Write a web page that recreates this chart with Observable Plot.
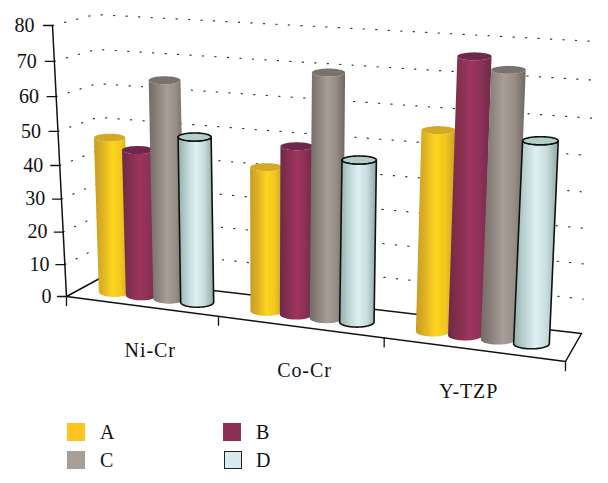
<!DOCTYPE html>
<html>
<head>
<meta charset="utf-8">
<script src="https://cdn.jsdelivr.net/npm/d3@7"></script>
<script src="https://cdn.jsdelivr.net/npm/@observablehq/plot@0.6"></script>
<style>
html,body{margin:0;padding:0;background:#fff;}
#chart{position:relative;width:608px;height:483px;overflow:hidden;font-family:"Liberation Serif",serif;}
#chart svg{position:absolute;left:0;top:0;}
.cat-label{letter-spacing:0.9px;}
.sw{position:absolute;width:18px;height:18px;box-sizing:border-box;}
.lb{position:absolute;font-size:20px;line-height:20px;color:#111;}
</style>
</head>
<body>
<div id="chart"></div>
<script>
const categories = ["Ni-Cr", "Co-Cr", "Y-TZP"];
const seriesNames = ["A", "B", "C", "D"];
const A = [47, 42, 55.5];
const B = [44, 48.5, 75];
const C = [64.5, 69, 72];
const D = [49, 46, 54.5];
const seriesValues = [A, B, C, D];
const valueTicks = [0, 10, 20, 30, 40, 50, 60, 70, 80];
const legendColors = ["#fdc31f", "#8e2f55", "#a89e98", "#d9eaee"];

const W = 608, H = 483, vMax = 80;
// screen positions of the 3D box corners (front/back, left/right, bottom/top)
const box = {
  flb:[66,296], flt:[52,25], blb:[101,277], blt:[95,14],
  frb:[565,361], frt:[582,40], brb:[581,333], brt:[595,41]
};
const warp = (s, w) => s*w/(1+s*(w-1));
const mix = (a,b,s) => [a[0]+(b[0]-a[0])*s, a[1]+(b[1]-a[1])*s];
function project(u, depth, v){
  const s = warp(u,0.876), h = warp(v/vMax,0.936);
  const fb = mix(box.flb,box.frb,s), ft = mix(box.flt,box.frt,s);
  const bb = mix(box.blb,box.brb,s), bt = mix(box.blt,box.brt,s);
  return mix(mix(fb,ft,h), mix(bb,bt,h), depth);
}
const pt = p => ({x:p[0], y:p[1]});
const line = (pts,o) => Plot.line(pts.map(pt), {x:"x", y:"y", ...o});

const grads = [
  {id:"gA", stops:["#c69c25","#e0b323","#fdd51e","#f2c71f","#c99f26"], cap:"#d3a825", stroke:"none"},
  {id:"gB", stops:["#6d2a47","#85304f","#9c355f","#8d3156","#6d2a47"], cap:"#70274a", stroke:"none"},
  {id:"gC", stops:["#746b66","#8d837e","#a89d97","#978d87","#6f6661"], cap:"#7b716c", stroke:"none"},
  {id:"gD", stops:["#93aeaa","#bcd3d2","#dff0f2","#c6dcdb","#8ba7a2"], cap:"#b3cdc7", stroke:"#111"}
];
const defsMark = () => {
  const defs = d3.create("svg:defs");
  for (const g of grads){
    const lg = defs.append("linearGradient").attr("id",g.id);
    g.stops.forEach((c,i)=>lg.append("stop").attr("offset",i/(g.stops.length-1)).attr("stop-color",c));
  }
  return defs.node();
};

const slot = 0.0615, depth = 0.45, ryTop = 4, ryBot = 5;
const barMarks = [];
categories.forEach((_,i)=>{
  seriesValues.forEach((vals,j)=>{
    const u = (i+0.5)/3 + (j-1.5)*slot;
    const rx = 15.5 + 2*u + (j===3?0.5:0);
    const cb = project(u,depth,0), ct = project(u,depth,vals[i]);
    const g = grads[j];
    const sw = g.stroke==="none"?0:1.6;
    const ell = (c,ry,from,to,n) => d3.range(0,n+1).map(k=>{
      const a = from+(to-from)*k/n;
      return [c[0]+rx*Math.cos(a), c[1]+ry*Math.sin(a)];
    });
    const bottomFront = ell(cb,ryBot,Math.PI,0,24);
    const topFront = ell(ct,ryTop,0,Math.PI,24);
    const outline = [...bottomFront, ...topFront, bottomFront[0]];
    const cap = ell(ct,ryTop,0,2*Math.PI,48);
    barMarks.push(line(outline,{fill:`url(#${g.id})`,stroke:g.stroke,strokeWidth:sw,strokeLinejoin:"round"}));
    barMarks.push(line(cap,{fill:g.cap,stroke:g.stroke,strokeWidth:sw}));
  });
});

const gridMarks = valueTicks.filter(v=>v>0).map(v =>
  line([project(0,0,v),project(0,1,v),project(1,1,v)],
    {stroke:"#333",strokeWidth:1.2,strokeDasharray:"1.2 11.3",strokeLinecap:"round"}));

const floor = [
  [[0,0],[1,0]], [[0,0],[0,1]], [[1,0],[1,1]], [[0,1],[1,1]]
].map(([a,b]) => line([project(a[0],a[1],0),project(b[0],b[1],0)],{stroke:"#111",strokeWidth:1.5}));

const tickSize = 9;
const yTicks = valueTicks.map(v=>{
  const p = project(0,0,v);
  return line([p,[p[0]-tickSize,p[1]]],{stroke:"#111",strokeWidth:1.3});
});
const xTicks = [0,1/3,2/3,1].map(u=>{
  const p = project(u,0,0);
  return line([p,[p[0],p[1]+9]],{stroke:"#111",strokeWidth:1.3});
});
const yLabels = valueTicks.map(v=>{
  const p = project(0,0,v);
  return {x:p[0]-tickSize-6-3*v/vMax, y:p[1], t:String(v)};
});
const labelU = [0.187,0.51,0.826];
const catLabels = categories.map((c,i)=>{
  const p = project(labelU[i],0,0);
  return {x:p[0], y:p[1]+43, t:c};
});

const plot = Plot.plot({
  width:W, height:H-68, margin:0,
  x:{domain:[0,W],range:[0,W],axis:null},
  y:{domain:[0,H-68],range:[0,H-68],axis:null},
  style:{background:"transparent",fontFamily:"'Liberation Serif',serif",overflow:"visible"},
  marks:[
    defsMark,
    ...gridMarks,
    ...floor,
    line([project(0,0,0),project(0,0,vMax)],{stroke:"#111",strokeWidth:1.5}),
    ...yTicks, ...xTicks,
    ...barMarks,
    Plot.text(yLabels,{x:"x",y:"y",text:"t",textAnchor:"end",fontSize:20,fill:"#111"}),
    Plot.text(catLabels,{x:"x",y:"y",text:"t",textAnchor:"middle",fontSize:20,fill:"#111",className:"cat-label"})
  ]
});
const chart = document.getElementById("chart");
chart.appendChild(plot);

const slots = [[67,423],[223,423],[67,451],[224,451]];
const textX = [100,256,100,256];
seriesNames.forEach((n,i)=>{
  const s = document.createElement("div");
  s.className="sw";
  s.style.left=slots[i][0]+"px"; s.style.top=slots[i][1]+"px";
  s.style.background=legendColors[i];
  if(n==="D") s.style.border="1.5px solid #222";
  chart.appendChild(s);
  const l = document.createElement("div");
  l.className="lb"; l.textContent=n;
  l.style.left=textX[i]+"px"; l.style.top=(slots[i][1]-1)+"px";
  chart.appendChild(l);
});
</script>
</body>
</html>
